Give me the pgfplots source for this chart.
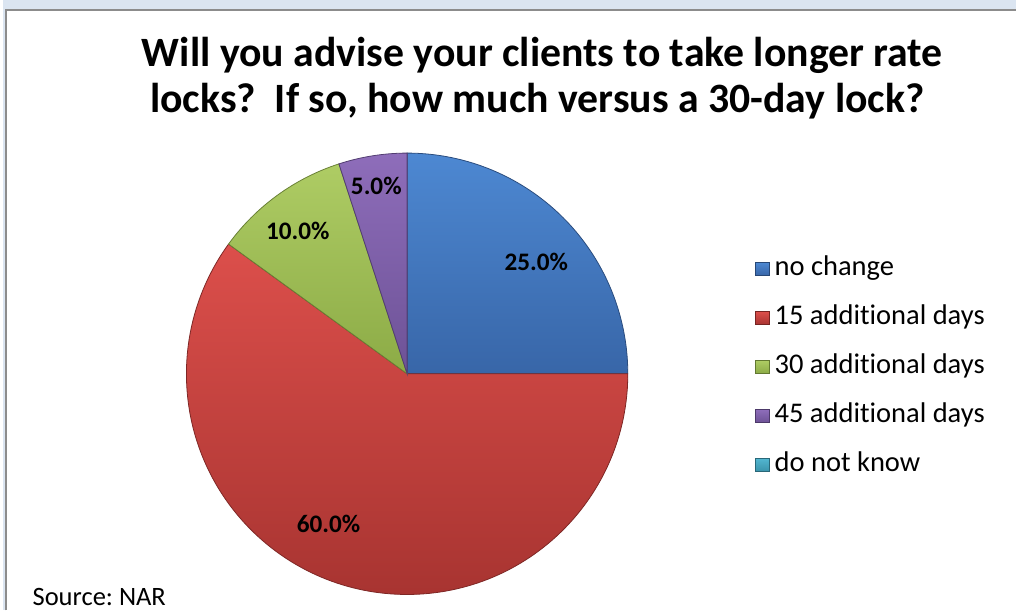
\documentclass[border=0pt]{standalone}
\usepackage{fontspec}
\setmainfont{Carlito}[Ligatures=NoCommon]
\usepackage{pgfplots}
\usepackage{pgfplotstable}
\pgfplotsset{compat=1.18}
\frenchspacing

\definecolor{bgblue}{HTML}{DBE5F1}
\definecolor{frame}{HTML}{8C8C8C}
% slice colours: top / bottom of the gradient
\definecolor{c0t}{HTML}{4D88D2}\definecolor{c0b}{HTML}{3866A8}
\definecolor{c1t}{HTML}{DC4F4B}\definecolor{c1b}{HTML}{A83431}
\definecolor{c2t}{HTML}{AECC64}\definecolor{c2b}{HTML}{8CAB46}
\definecolor{c3t}{HTML}{8E6DBA}\definecolor{c3b}{HTML}{6D5296}
\definecolor{c4t}{HTML}{52B6D0}\definecolor{c4b}{HTML}{3A93AB}

% share in percent, label centre in pixels
\pgfplotstableread{
idx value lx ly
0 25 537 263
1 60 328 527
2 10 297 232
3 5 376 187
4 0 0 0
}\piedata

\begin{document}
% start/end angles, clockwise from 12 o'clock
\def\cum{0}
\pgfplotsforeachungrouped \i in {0,...,4}{%
  \pgfplotstablegetelem{\i}{value}\of\piedata
  \let\pv\pgfplotsretval
  \pgfmathsetmacro\sa{90-3.6*\cum}%
  \pgfmathsetmacro\cum{\cum+\pv}%
  \pgfmathsetmacro\ea{90-3.6*\cum}%
  \pgfmathsetmacro\op{\pv>0}%
  \expandafter\xdef\csname sa\i\endcsname{\sa}%
  \expandafter\xdef\csname ea\i\endcsname{\ea}%
  \expandafter\xdef\csname op\i\endcsname{\op}%
  \expandafter\xdef\csname pv\i\endcsname{\pv}%
  \pgfplotstablegetelem{\i}{lx}\of\piedata
  \expandafter\xdef\csname lx\i\endcsname{\pgfplotsretval}%
  \pgfplotstablegetelem{\i}{ly}\of\piedata
  \expandafter\xdef\csname ly\i\endcsname{\pgfplotsretval}%
}
\begin{tikzpicture}
\begin{axis}[name=ax,
    x=0.75pt, y=0.75pt, y dir=reverse,
    xmin=3.5, xmax=1019.5, ymin=0, ymax=614,
    hide axis, scale only axis, clip=false]
  % background and chart frame
  \fill[bgblue] (axis cs:0,0) rectangle (axis cs:1020,614);
  \fill[white] (axis cs:4,10) rectangle (axis cs:1020,614);
  \draw[frame, line width=1.5pt] (axis cs:4,614) -- (axis cs:4,10) -- (axis cs:1020,10);

  % title
  \node[anchor=base, font=\fontsize{31.5}{31.5}\selectfont\bfseries] at (axis cs:543,67)
    {Will you advise your clients to take longer rate};
  \node[anchor=base, font=\fontsize{31.5}{31.5}\selectfont\bfseries] at (axis cs:538,113)
    {locks?\ \ If so, how much versus a 30-day lock?};

  % slices
  \pgfplotsinvokeforeach{0,...,4}{
    \shadedraw[top color=c#1t, bottom color=c#1b, draw=c#1b!75!black,
      line width=0.6pt, opacity=\csname op#1\endcsname]
      (axis cs:407,376) -- ++(\csname sa#1\endcsname:166.5pt)
      arc[start angle=\csname sa#1\endcsname, end angle=\csname ea#1\endcsname, radius=166.5pt]
      -- cycle;
  }
  \pgfplotsinvokeforeach{0,...,3}{
    \node[font=\fontsize{19}{19}\selectfont\bfseries]
      at (axis cs:\csname lx#1\endcsname,\csname ly#1\endcsname)
      {\pgfmathprintnumber[fixed,fixed zerofill,precision=1,assume math mode=true]{\csname pv#1\endcsname}\%};
  }

  % legend
  \pgfplotsinvokeforeach{0,...,4}{
    \shadedraw[top color=c#1t, bottom color=c#1b, draw=c#1b!70!black, line width=0.4pt]
      (axis cs:757,{264+49.3*#1}) rectangle (axis cs:771,{277+49.3*#1});
  }
  \node[anchor=base west, font=\fontsize{21.5}{21.5}\selectfont] at (axis cs:772,277) {no change};
  \node[anchor=base west, font=\fontsize{21.5}{21.5}\selectfont] at (axis cs:772,326.3) {15 additional days};
  \node[anchor=base west, font=\fontsize{21.5}{21.5}\selectfont] at (axis cs:772,375.6) {30 additional days};
  \node[anchor=base west, font=\fontsize{21.5}{21.5}\selectfont] at (axis cs:772,424.9) {45 additional days};
  \node[anchor=base west, font=\fontsize{21.5}{21.5}\selectfont] at (axis cs:772,474.2) {do not know};

  \node[anchor=base west, inner sep=0pt, font=\fontsize{20}{20}\selectfont] at (axis cs:30,609) {Source: NAR};
\end{axis}
\pgfresetboundingbox
\path[use as bounding box] (ax.south west) rectangle (ax.north east);
\end{tikzpicture}
\end{document}
